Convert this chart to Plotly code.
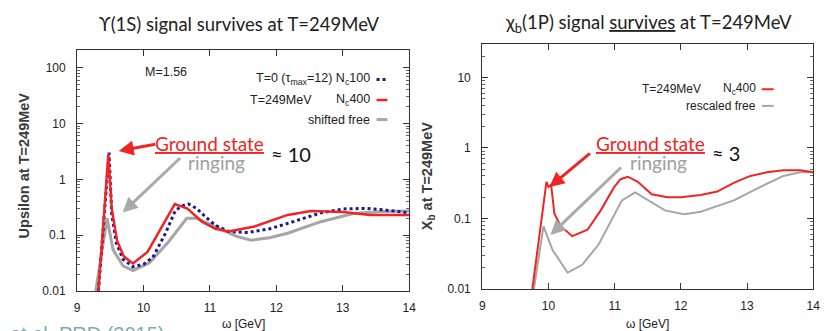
from plotly import graph_objects as go

W, H = 830, 331

# left panel: Upsilon(1S)
omega_t0 = [9.32, 9.48, 9.52, 9.59, 9.69, 9.84, 10.0, 10.14, 10.33, 10.48, 10.60, 10.68,
            10.80, 10.93, 11.08, 11.28, 11.57, 11.9, 12.17, 12.45, 12.67, 13.01, 13.35, 13.66, 14.0]
ups_t0 = [0.01, 3.0, 0.24, 0.072, 0.037, 0.027, 0.030, 0.04, 0.108, 0.28, 0.34, 0.36,
          0.30, 0.213, 0.15, 0.116, 0.111, 0.13, 0.162, 0.21, 0.25, 0.295, 0.30, 0.28, 0.25]

omega_t249 = [9.32, 9.47, 9.52, 9.60, 9.70, 9.84, 10.06, 10.47, 10.66, 10.88, 11.08, 11.28,
              11.67, 12.17, 12.52, 13.01, 13.41, 14.0]
ups_t249 = [0.01, 2.8, 0.3, 0.08, 0.042, 0.031, 0.05, 0.36, 0.30, 0.174, 0.13, 0.116,
            0.143, 0.23, 0.27, 0.26, 0.23, 0.23]

omega_free = [9.28, 9.45, 9.54, 9.69, 9.84, 10.09, 10.38, 10.65, 10.8, 11.0, 11.18, 11.4,
              11.62, 11.9, 12.17, 12.67, 13.16, 13.6, 14.0]
ups_free = [0.01, 0.20, 0.055, 0.028, 0.023, 0.032, 0.077, 0.20, 0.20, 0.155, 0.124, 0.095,
            0.081, 0.09, 0.108, 0.174, 0.243, 0.265, 0.27]

# right panel: chi_b(1P)
omega_chi = [9.757, 9.97, 10.0, 10.04, 10.09, 10.19, 10.36, 10.59, 10.79, 10.99, 11.09, 11.2,
             11.35, 11.56, 11.8, 12.0, 12.3, 12.55, 12.8, 13.05, 13.3, 13.55, 13.8, 14.0]
chi_t249 = [0.01, 0.33, 0.28, 0.30, 0.117, 0.077, 0.056, 0.069, 0.13, 0.275, 0.36, 0.39,
            0.33, 0.22, 0.20, 0.20, 0.215, 0.24, 0.32, 0.40, 0.45, 0.48, 0.48, 0.45]

omega_chi_free = [9.78, 9.925, 10.06, 10.29, 10.51, 10.76, 11.11, 11.31, 11.76, 12.05, 12.3,
                  12.8, 13.3, 13.55, 13.8, 14.0]
chi_free = [0.01, 0.077, 0.036, 0.017, 0.022, 0.043, 0.18, 0.233, 0.13, 0.115, 0.124,
            0.18, 0.31, 0.40, 0.45, 0.45]

x_ticks = [9, 10, 11, 12, 13, 14]
y_ticks = [0.01, 0.1, 1, 10, 100]
y_ticktext = ['0.01', '0.1', '1', '10', '100']

RED = '#f02424'
BLUE = '#1a1a8c'
GRAY = '#a6a6a6'
FRAME = '#333333'
TICKFONT = dict(family='Liberation Sans, Arial', size=12, color='#222222')


def px(x):
	return x / W


def py(y):
	return 1 - y / H


minor_vals = [m * 10 ** e for e in range(-2, 3) for m in range(2, 10)]

fig = go.Figure()
fig.add_trace(go.Scatter(x=omega_free, y=ups_free, mode='lines',
	line=dict(color=GRAY, width=3), xaxis='x', yaxis='y'))
fig.add_trace(go.Scatter(x=omega_t0, y=ups_t0, mode='lines',
	line=dict(color=BLUE, width=3, dash='dot'), xaxis='x', yaxis='y'))
fig.add_trace(go.Scatter(x=omega_t249, y=ups_t249, mode='lines',
	line=dict(color=RED, width=2.5), xaxis='x', yaxis='y'))
fig.add_trace(go.Scatter(x=omega_chi_free, y=chi_free, mode='lines',
	line=dict(color=GRAY, width=2), xaxis='x2', yaxis='y2'))
fig.add_trace(go.Scatter(x=omega_chi, y=chi_t249, mode='lines',
	line=dict(color=RED, width=2), xaxis='x2', yaxis='y2'))

xax = dict(range=[9, 14], tickvals=x_ticks, ticks='inside', ticklen=6, tickcolor=FRAME,
	showline=True, linecolor=FRAME, linewidth=1.2, mirror='ticks', showgrid=False,
	zeroline=False, tickfont=TICKFONT, ticklabelstandoff=6)
yax = dict(type='log', tickvals=y_ticks, ticktext=y_ticktext, ticks='inside', ticklen=6,
	tickcolor=FRAME, showline=True, linecolor=FRAME, linewidth=1.2, mirror='ticks',
	showgrid=False, zeroline=False, tickfont=TICKFONT, ticklabelstandoff=8,
	minor=dict(tickvals=minor_vals, ticks='inside', ticklen=3, tickcolor='#666666'))

fig.update_layout(
	width=W, height=H, margin=dict(l=0, r=0, t=0, b=0),
	paper_bgcolor='white', plot_bgcolor='white', showlegend=False,
	xaxis=dict(xax, domain=[px(67), px(403)], anchor='y'),
	yaxis=dict(yax, domain=[py(289), py(43)], range=[-2, 2.316], anchor='x'),
	xaxis2=dict(xax, domain=[px(477), px(812)], anchor='y2'),
	yaxis2=dict(yax, domain=[py(287), py(37)], range=[-2, 1.47], anchor='x2'),
)

TITLEFONT = dict(family='Lato, Noto Sans', size=18.5, color='#222222')
LEGFONT = dict(family='Liberation Sans, Arial', size=12.5, color='#222222')
BIG = 'Lato, Noto Sans'

notes = [
	dict(x=px(231), y=py(16), text='ϒ(1S) signal survives at T=249MeV', font=TITLEFONT),
	dict(x=px(645), y=py(16), text='χ<sub>b</sub>(1P) signal <u>survives</u> at T=249MeV', font=TITLEFONT),
	dict(x=px(13), y=py(161), text='<b>Upsilon at T=249MeV</b>', textangle=-90,
		font=dict(family='Liberation Sans, Arial', size=14.5, color='#3a3a3a')),
	dict(x=px(422), y=py(172), text='<b>X<sub>b</sub> at T=249MeV</b>', textangle=-90,
		font=dict(family='Liberation Sans, Arial', size=14.5, color='#3a3a3a')),
	dict(x=px(235), y=py(323), text='ω [GeV]', font=dict(family='Liberation Sans, Arial', size=12, color='#222222')),
	dict(x=px(644), y=py(323), text='ω [GeV]', font=dict(family='Liberation Sans, Arial', size=12, color='#222222')),
	dict(x=px(157), y=py(65), text='M=1.56', font=LEGFONT),
	dict(x=px(365), y=py(73), xanchor='right', text='T=0 (τ<sub>max</sub>=12) N<sub>c</sub>100', font=LEGFONT),
	dict(x=px(240), y=py(94), xanchor='left', text='T=249MeV', font=LEGFONT),
	dict(x=px(365), y=py(94), xanchor='right', text='N<sub>c</sub>400', font=LEGFONT),
	dict(x=px(365), y=py(114), xanchor='right', text='shifted free', font=LEGFONT),
	dict(x=px(637), y=py(83), xanchor='left', text='T=249MeV', font=dict(LEGFONT, size=12)),
	dict(x=px(756), y=py(83), xanchor='right', text='N<sub>c</sub>400', font=dict(LEGFONT, size=12)),
	dict(x=px(756), y=py(100), xanchor='right', text='rescaled free', font=dict(LEGFONT, size=12)),
	dict(x=px(201), y=py(138), text='<u>Ground state</u>', font=dict(family=BIG, size=19, color=RED)),
	dict(x=px(208), y=py(158), text='ringing', font=dict(family=BIG, size=19, color='#a0a0a0')),
	dict(x=px(283), y=py(149), text='≈ 10', font=dict(family=BIG, size=20, color='#111111')),
	dict(x=px(647), y=py(138), text='<u>Ground state</u>', font=dict(family=BIG, size=19, color=RED)),
	dict(x=px(655), y=py(158), text='ringing', font=dict(family=BIG, size=19, color='#a0a0a0')),
	dict(x=px(724), y=py(148), text='≈ 3', font=dict(family=BIG, size=20, color='#111111')),
	dict(x=px(158), y=py(320), xanchor='right', yanchor='top', text='Kim et al. PRD (2015)',
		font=dict(family='Liberation Sans, Arial', size=20, color='#7aaeae')),
]
for n in notes:
	n.setdefault('xref', 'paper')
	n.setdefault('yref', 'paper')
	n.setdefault('xanchor', 'center')
	n.setdefault('yanchor', 'middle')
	n.setdefault('showarrow', False)
	fig.add_annotation(**n)

# arrows pointing at the peaks
arrows = [
	dict(x=9.625, y=0.509, xref='x', yref='y', ax=38, ay=-7, arrowcolor=RED),
	dict(x=9.685, y=-0.596, xref='x', yref='y', ax=59, ay=-56, arrowcolor='#aaaaaa'),
	dict(x=10.015, y=-0.556, xref='x2', yref='y2', ax=42, ay=-35, arrowcolor=RED),
	dict(x=10.03, y=-1.236, xref='x2', yref='y2', ax=72, ay=-69, arrowcolor='#aaaaaa'),
]
for a in arrows:
	fig.add_annotation(text='', showarrow=True, arrowhead=2, arrowsize=1, arrowwidth=3, **a)

# legend sample lines
samples = [
	(370, 381, 73, BLUE, 'dot', 3),
	(370, 381, 94, RED, 'solid', 2.5),
	(370, 381, 114, GRAY, 'solid', 3),
	(760, 772, 83, RED, 'solid', 2),
	(760, 772, 100, GRAY, 'solid', 2),
]
for x0, x1, y0, c, d, w in samples:
	fig.add_shape(type='line', xref='paper', yref='paper', x0=px(x0), x1=px(x1),
		y0=py(y0), y1=py(y0), line=dict(color=c, dash=d, width=w))

fig.write_html("out.html")
